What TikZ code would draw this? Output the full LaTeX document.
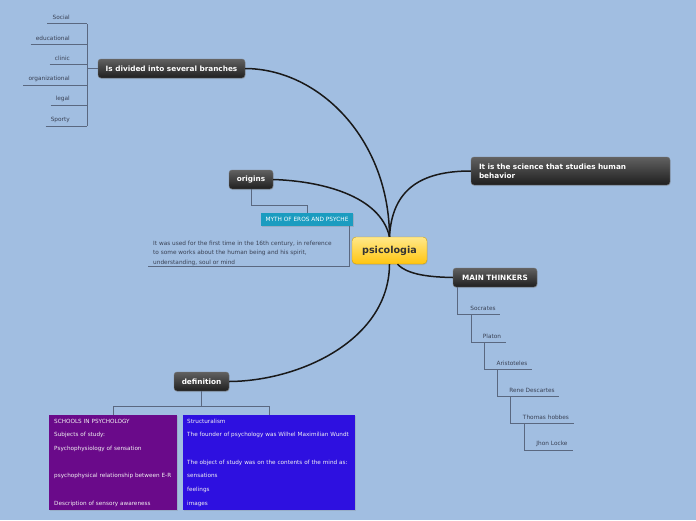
\documentclass[tikz,border=0pt]{standalone}
\usepackage{fontspec}
\setmainfont{DejaVu Sans}
\usetikzlibrary{calc,shadows}
\definecolor{bg}{HTML}{A1BEE1}
\definecolor{tline}{HTML}{5A6880}
\definecolor{leaftext}{HTML}{3A4255}
\definecolor{mythc}{HTML}{1B9CC0}
\definecolor{purplebox}{HTML}{6A0A8A}
\definecolor{bluebox}{HTML}{2E10E0}
\definecolor{yeltop}{HTML}{FFE88A}
\definecolor{yelbot}{HTML}{FFC510}
\begin{document}
\begin{tikzpicture}[x=1pt,y=-1pt,
  darkbox/.style={rounded corners=3pt, draw=black!55, top color=black!62, bottom color=black!88,
    text=white, font=\fontsize{7.3}{8}\selectfont\bfseries, inner sep=0pt,
    drop shadow={opacity=0.25, shadow xshift=0.6pt, shadow yshift=-1pt}},
  centerbox/.style={rounded corners=4pt, draw=yelbot!80!black, top color=yeltop, bottom color=yelbot,
    text=black!80, font=\fontsize{9.6}{10}\selectfont\bfseries, inner sep=0pt,
    minimum width=75pt, minimum height=27pt,
    drop shadow={opacity=0.25, shadow xshift=0.6pt, shadow yshift=-1pt}},
  mainline/.style={line width=1.5pt, black!90},
  tln/.style={line width=0.8pt, tline},
  leaf/.style={font=\fontsize{5.8}{6}\selectfont, text=leaftext, inner sep=0pt},
  colbox/.style={draw=none, text=white!90!gray, font=\fontsize{5.7}{13.7}\selectfont, align=left,
    minimum height=95pt, inner xsep=5pt, inner ysep=0pt, anchor=north west,
    drop shadow={opacity=0.25, shadow xshift=0.6pt, shadow yshift=-1pt}},
]
\useasboundingbox (0,0) rectangle (696,520);
\fill[bg] (0,0) rectangle (696,520);

% central node
\node[centerbox] (psi) at (389.5,250.5) {psicologia};

% main branches
\node[darkbox, minimum width=147pt, minimum height=19pt] (div) at (171.5,68.5) {Is divided into several branches};
\node[darkbox, minimum width=44pt, minimum height=19pt] (ori) at (251,179.5) {origins};
\node[darkbox, minimum width=199pt, minimum height=28pt, align=left, text width=183pt, inner xsep=8pt,
  font=\fontsize{7.3}{9}\selectfont\bfseries] (sci) at (570.5,171) {It is the science that studies human\\behavior};
\node[darkbox, minimum width=84pt, minimum height=19pt] (mt) at (495,277.5) {MAIN THINKERS};
\node[darkbox, minimum width=55pt, minimum height=19pt] (def) at (201.5,381.5) {definition};

% main connectors
\draw[mainline] (psi.north) .. controls (389,140) and (320,69) .. (div.east);
\draw[mainline] (psi.north) .. controls (380,195) and (320,181) .. (ori.east);
\draw[mainline] (psi.north) .. controls (392,190) and (420,171) .. (sci.west);
\draw[mainline] ($(psi.south)+(8,0)$) .. controls (408,275) and (430,277) .. (mt.west);
\draw[mainline] (psi.south) .. controls (389,340) and (300,381) .. (def.east);

% branches of "Is divided"
\coordinate (dvj) at (87,68.5);
\draw[tln] (div.west) -- (dvj);
\draw[tln] (87,24) -- (87,126);
\foreach \nm/\txt/\ty in {soc/Social/17, edu/educational/38, cli/clinic/58, org/organizational/79, leg/legal/99, spo/Sporty/120}{
  \node[leaf, anchor=east] (\nm) at (70,\ty) {\txt};
  \path ([xshift=-5pt,yshift=-6.5pt]\nm.west) coordinate (\nm-a);
  \draw[tln] (\nm-a) -- (\nm-a -| dvj);
}

% origins subtree
\node[fill=mythc, text=white, font=\fontsize{5.8}{6}\selectfont, minimum width=92pt, minimum height=13pt, inner sep=0pt,
  drop shadow={opacity=0.3, shadow xshift=0.6pt, shadow yshift=-1pt}] (myth) at (307,219.5) {MYTH OF EROS AND PSYCHE};
\draw[tln] (ori.south) -- ++(0,16) -| (myth.north);
\node[leaf, anchor=north west, align=left, font=\fontsize{5.8}{9.5}\selectfont] (used) at (153,240.5)
  {It was used for the first time in the 16th century, in reference\\to some works about the human being and his spirit,\\understanding, soul or mind};
\coordinate (usedend) at (148,266.5);
\draw[tln] ($(myth.south east)+(-4,0)$) |- (usedend);

% main thinkers staircase
\node[leaf] (s1) at (483,308) {Socrates};
\node[leaf] (s2) at (492,336) {Platon};
\node[leaf] (s3) at (512,363) {Aristoteles};
\node[leaf] (s4) at (532,390) {Rene Descartes};
\node[leaf] (s5) at (546,417) {Thomas hobbes};
\node[leaf] (s6) at (552,444) {Jhon Locke};
\coordinate (e1) at (500,314);
\coordinate (e2) at (506,342);
\coordinate (e3) at (532,369);
\coordinate (e4) at (559,396);
\coordinate (e5) at (574,423);
\coordinate (e6) at (573,450);
\draw[tln] (mt.south west -| 457,0) |- (e1);
\draw[tln] (471,314) |- (e2);
\draw[tln] (484,342) |- (e3);
\draw[tln] (497,369) |- (e4);
\draw[tln] (510,396) |- (e5);
\draw[tln] (524,423) |- (e6);

% definition subtree
\node[colbox, fill=purplebox, text width=118pt] (pb) at (49,415)
  {\mbox{SCHOOLS IN PSYCHOLOGY}\\\mbox{Subjects of study:}\\\mbox{Psychophysiology of sensation}\\\mbox{}\\\mbox{psychophysical relationship between E-R}\\\mbox{}\\\mbox{Description of sensory awareness}};
\node[colbox, fill=bluebox, inner xsep=4pt, text width=164pt] (bb) at (183,415)
  {\mbox{Structuralism}\\\mbox{The founder of psychology was Wilhel Maximilian Wundt}\\\mbox{}\\\mbox{The object of study was on the contents of the mind as:}\\\mbox{sensations}\\\mbox{feelings}\\\mbox{images}};
\draw[tln] (def.south) -- ++(0,15) coordinate (dj);
\draw[tln] (dj) -| ($(pb.north west)+(64,0)$);
\draw[tln] (dj) -| ($(bb.north west)+(86,0)$);
\end{tikzpicture}
\end{document}
